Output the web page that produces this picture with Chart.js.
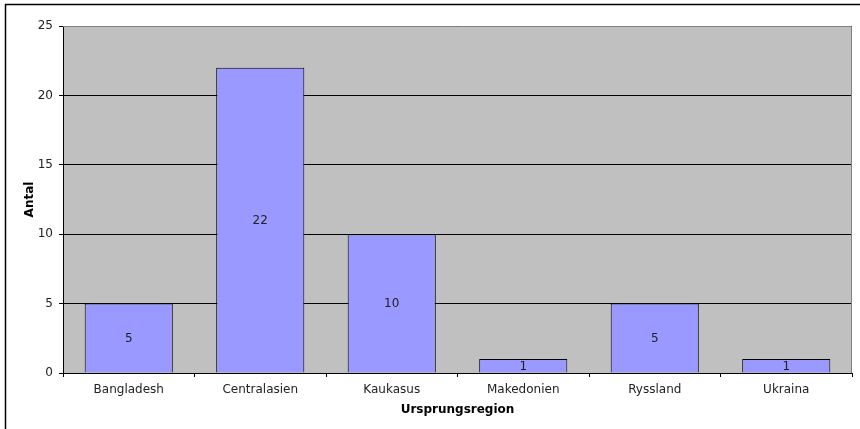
<!DOCTYPE html>
<html>
<head>
<meta charset="utf-8">
<script src="https://cdn.jsdelivr.net/npm/chart.js@4"></script>
<style>
  html, body { margin: 0; padding: 0; background: #fff; }
  #wrap { width: 860px; height: 429px; position: relative; }
</style>
</head>
<body>
<div id="wrap"><canvas id="c" width="860" height="429"></canvas></div>
<script>
// Regions of origin and counts
const regions = ['Bangladesh', 'Centralasien', 'Kaukasus', 'Makedonien', 'Ryssland', 'Ukraina'];
const counts = [5, 22, 10, 1, 5, 1];
const yTicks = [0, 5, 10, 15, 20, 25];

const FONT = 'DejaVu Sans, Verdana, sans-serif';
const FS = 12;
const PLOT_BG = '#c0c0c0';
const BAR = '#9999ff';

// Gray plot area, outer chart frame and labels in the middle of each bar
const excelLook = {
  id: 'excelLook',
  beforeDraw(chart) {
    const { ctx, chartArea: a } = chart;
    ctx.save();
    ctx.fillStyle = '#fff';
    ctx.fillRect(0, 0, chart.width, chart.height);
    ctx.fillStyle = PLOT_BG;
    ctx.fillRect(a.left, a.top, a.right - a.left, a.bottom - a.top);
    // outer frame (right/bottom fall outside the picture)
    ctx.strokeStyle = '#000';
    ctx.lineWidth = 1.5;
    ctx.beginPath();
    ctx.moveTo(5.5, chart.height + 5);
    ctx.lineTo(5.5, 4.5);
    ctx.lineTo(chart.width + 5, 4.5);
    ctx.stroke();
    ctx.restore();
  },
  afterDatasetsDraw(chart) {
    const { ctx, chartArea: a } = chart;
    ctx.save();
    // plot area border on top and right
    ctx.strokeStyle = '#808080';
    ctx.lineWidth = 1;
    ctx.beginPath();
    ctx.moveTo(a.left, a.top + 0.5);
    ctx.lineTo(a.right - 0.5, a.top + 0.5);
    ctx.lineTo(a.right - 0.5, a.bottom);
    ctx.stroke();
    // value labels
    ctx.fillStyle = '#222';
    ctx.font = FS + 'px ' + FONT;
    ctx.textAlign = 'center';
    ctx.textBaseline = 'middle';
    chart.getDatasetMeta(0).data.forEach((bar, i) => {
      ctx.fillText(String(counts[i]), bar.x, (bar.y + bar.base) / 2 + 1);
    });
    ctx.restore();
  }
};

new Chart(document.getElementById('c'), {
  type: 'bar',
  data: {
    labels: regions,
    datasets: [{
      data: counts,
      backgroundColor: BAR,
      borderColor: '#000',
      borderWidth: 1,
      borderSkipped: 'bottom',
      categoryPercentage: 1,
      barPercentage: 0.67
    }]
  },
  plugins: [excelLook],
  options: {
    responsive: false,
    animation: false,
    devicePixelRatio: 1,
    layout: { padding: { top: 26, right: 8, left: 0, bottom: 0 } },
    plugins: { legend: { display: false }, tooltip: { enabled: false } },
    scales: {
      x: {
        offset: true,
        grid: { offset: true, drawOnChartArea: false, color: '#000', tickLength: 4 },
        border: { color: '#000', width: 1 },
        ticks: { color: '#222', font: { family: FONT, size: FS }, padding: 6, maxRotation: 0 },
        title: { display: true, text: 'Ursprungsregion', color: '#000',
                 font: { family: FONT, size: FS, weight: 'bold' }, padding: { top: 4, bottom: 12 } },
        afterFit(s) { s.height = 56; }
      },
      y: {
        min: 0, max: 25,
        afterBuildTicks(s) { s.ticks = yTicks.map(v => ({ value: v })); },
        grid: { color: '#000', tickLength: 4 },
        border: { color: '#000', width: 1 },
        ticks: { color: '#222', font: { family: FONT, size: FS }, padding: 6 },
        title: { display: true, text: 'Antal', color: '#000',
                 font: { family: FONT, size: FS, weight: 'bold' }, padding: { top: 23, bottom: 0 } },
        afterFit(s) { s.width = 63; }
      }
    }
  }
});
</script>
</body>
</html>
